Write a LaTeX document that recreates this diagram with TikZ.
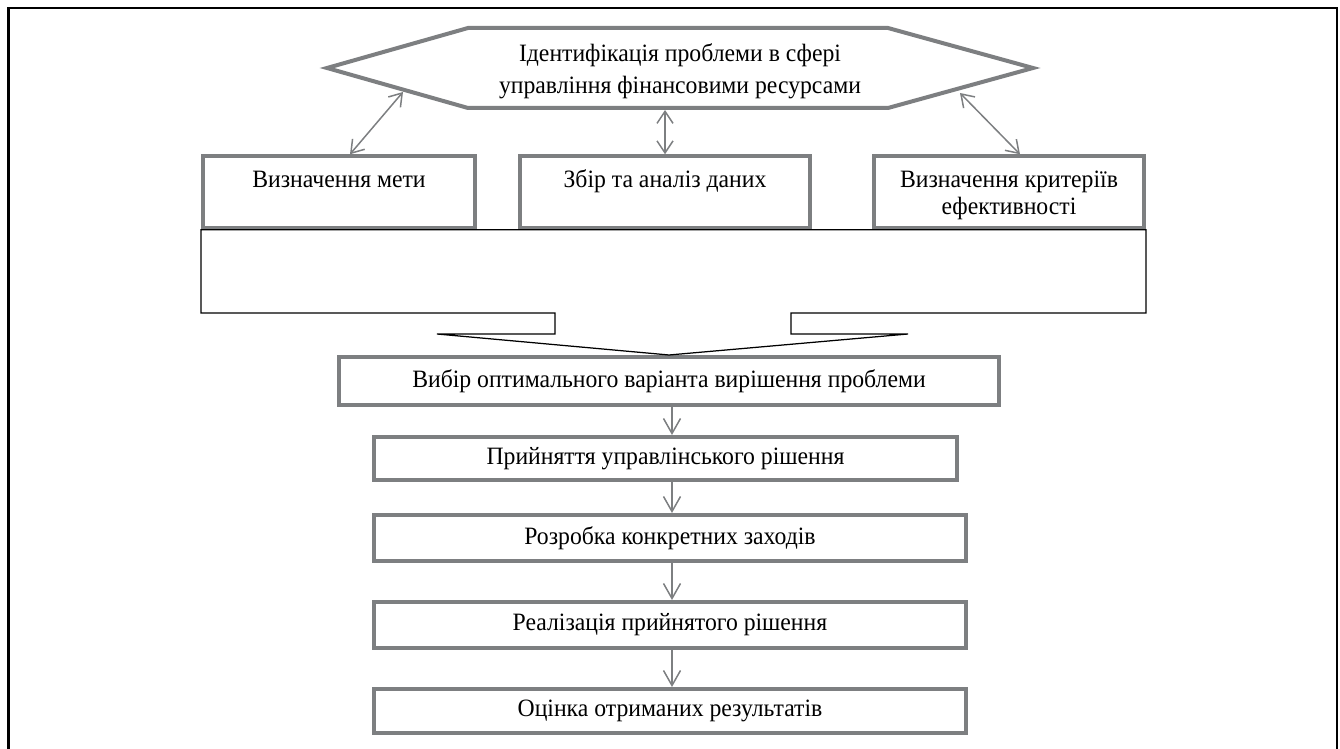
\documentclass[tikz,border=0pt]{standalone}
\usepackage{fontspec}
\setmainfont{Liberation Serif}[FakeStretch=0.95]
\usetikzlibrary{arrows.meta,calc}
\definecolor{boxgray}{RGB}{125,127,129}
\begin{document}
\begin{tikzpicture}[x=0.02cm, y=-0.02cm, font=\fontsize{14.2}{15.4}\selectfont,
	box/.style={draw=boxgray, line width=0.08cm, align=center, inner sep=0pt},
	link/.style={draw=boxgray, line width=0.03cm, <->, >={Straight Barb[length=0.24cm,width=0.32cm]}},
	flow/.style={draw=boxgray, line width=0.03cm, ->, >={Straight Barb[length=0.3cm,width=0.34cm]}}]
	\useasboundingbox (0,0) rectangle (1340,749);
	\draw[line width=0.045cm] (8.5,749)--(8.5,8)--(1337,8)--(1337,749);
	
	% hexagon
	\draw[boxgray, line width=0.08cm] (327,68) coordinate (hexW)--(468,28)--(888,28)--(1033,68) coordinate (hexE)
	--(888,108) coordinate (hexSE)--(468,108) coordinate (hexSW)--cycle;
	\node[align=center, font=\fontsize{14.2}{18.2}\selectfont] (ident) at (680,71) {Ідентифікація проблеми в сфері\\управління фінансовими ресурсами};
	\coordinate (hl) at (403,92);
	\coordinate (hr) at (960,93);
	
	\node[box, minimum width=5.44cm, minimum height=1.43cm, text height=0.3cm, text depth=0.46cm] (goal) at (339,192) {Визначення мети};
	\node[box, minimum width=5.8cm, minimum height=1.43cm, text height=0.3cm, text depth=0.46cm] (data) at (665,192) {Збір та аналіз даних};
	\node[box, minimum width=5.4cm, minimum height=1.43cm] (crit) at (1009,192) {\rule{0pt}{0.45cm}Визначення критеріїв\\ефективності};
	
	\draw[link] (hl)--([xshift=0.22cm]goal.north);
	\draw[link] ($(hexSW -| data.north)+(0,2)$)--(data.north);
	\draw[link] (hr)--([xshift=0.22cm]crit.north);
	
	\node[box, minimum width=13.2cm, minimum height=0.96cm] (choice) at (669,381) {Вибір оптимального варіанта вирішення проблеми};
	\node[box, minimum width=11.66cm, minimum height=0.86cm] (decision) at (665.5,458.5) {Прийняття управлінського рішення};
	\node[box, minimum width=11.84cm, minimum height=0.92cm] (measures) at (670,538) {Розробка конкретних заходів};
	\node[box, minimum width=11.84cm, minimum height=0.92cm] (impl) at (670,625) {Реалізація прийнятого рішення};
	\node[box, minimum width=11.84cm, minimum height=0.88cm] (eval) at (670,711) {Оцінка отриманих результатів};
	
	% block arrow
	\draw[line width=0.025cm] (goal.south west)--(crit.south east)--(1146,313)--(791,313)--(791,334)--(908,334)
	--(choice.north)--(437,334)--(555,334)--(555,313)--(201,313)--cycle;
	
	\coordinate (axis) at (672,0);
	\foreach \a/\b in {choice/decision, decision/measures, measures/impl, impl/eval}
	\draw[flow] (\a.south -| axis)--(\b.north -| axis);
\end{tikzpicture}
\end{document}
